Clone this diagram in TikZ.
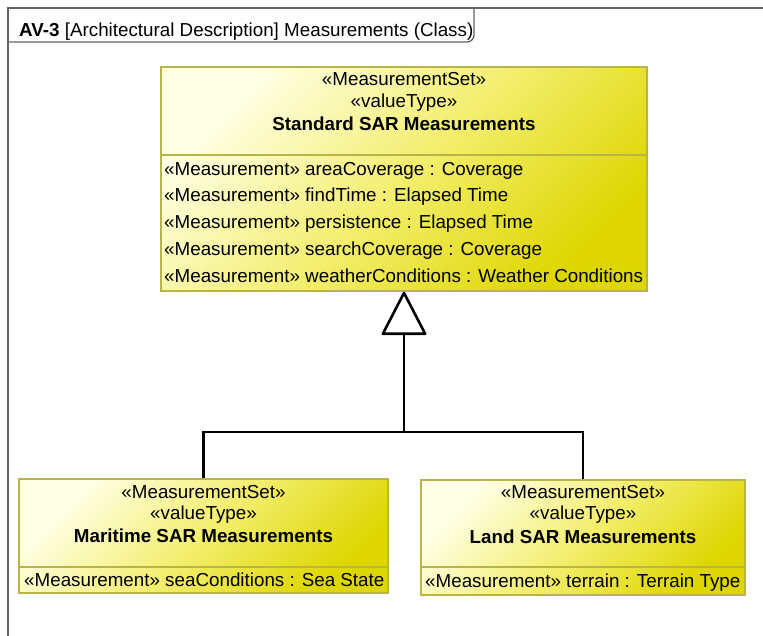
\documentclass[tikz,border=0pt]{standalone}
\usepackage{fontspec}
\setmainfont{Liberation Sans}
\usetikzlibrary{arrows.meta}
\definecolor{boxlight}{rgb}{1,1,0.90}
\definecolor{boxdark}{RGB}{222,214,0}
\definecolor{boxline}{RGB}{185,180,70}
\definecolor{framec}{RGB}{100,100,100}
\tikzset{
  classbox/.style={draw=boxline, line width=1.3pt, top color=boxlight, bottom color=boxdark, middle color={rgb,255:red,243;green,238;blue,110}, shading angle=45, inner sep=0pt},
  sepline/.style={draw=boxline, line width=2pt},
  txt/.style={inner sep=0pt, text height=13.5pt, text depth=3.5pt, font=\fontsize{18.8}{22}\selectfont},
  attr/.style={txt, anchor=west},
  conn/.style={line width=2.6pt, black},
  gen/.style={conn, -{Triangle[fill=white, length=45pt, width=46pt, line width=2.6pt, round]}},
  framel/.style={draw=framec, line width=1.3pt}
}
\begin{document}
\begin{tikzpicture}[x=1pt, y=-1pt]
\useasboundingbox (0,0) rectangle (763,635);
% frame
\draw[framel] (8,640) -- (8,8) -- (770,8);
\draw[framel, rounded corners=7pt] (8,42) -- (474,42) -- (474,8);
\node[txt, anchor=west] (title) at (19,31) {\textbf{AV-3} [Architectural Description] Measurements (Class)};

% Standard SAR Measurements
\node[classbox, minimum width=486pt, minimum height=224pt] (std) at (404,179) {};
\draw[sepline] (std.west |- 0,155) -- (std.east |- 0,155);
\node[txt] (s1) at (404,80) {«MeasurementSet»};
\node[txt] (s2) at (404,102) {«valueType»};
\node[txt] (s3) at (404,125) {\textbf{Standard SAR Measurements}};
\node[attr] (a1) at (164,170) {«Measurement» areaCoverage : Coverage};
\node[attr] (a2) at (164,196) {«Measurement» findTime : Elapsed Time};
\node[attr] (a3) at (164,223) {«Measurement» persistence : Elapsed Time};
\node[attr] (a4) at (164,250) {«Measurement» searchCoverage : Coverage};
\node[attr] (a5) at (164,277) {«Measurement» weatherConditions : Weather Conditions};

% Maritime SAR Measurements
\node[classbox, minimum width=369pt, minimum height=114pt] (mar) at (203.5,536) {};
\draw[sepline] (mar.west |- 0,567) -- (mar.east |- 0,567);
\node[txt] (m1) at (203.5,493) {«MeasurementSet»};
\node[txt] (m2) at (203.5,514) {«valueType»};
\node[txt] (m3) at (203.5,537) {\textbf{Maritime SAR Measurements}};
\node[attr] (m4) at (24,581) {«Measurement» seaConditions : Sea State};

% Land SAR Measurements
\node[classbox, minimum width=324pt, minimum height=115pt] (land) at (583,537.5) {};
\draw[sepline] (land.west |- 0,567) -- (land.east |- 0,567);
\node[txt] (l1) at (583,493) {«MeasurementSet»};
\node[txt] (l2) at (583,514) {«valueType»};
\node[txt] (l3) at (583,538) {\textbf{Land SAR Measurements}};
\node[attr] (l4) at (425,582) {«Measurement» terrain : Terrain Type};

% generalization
\coordinate (j) at (404,432);
\draw[conn] (mar.north) |- (j);
\draw[conn] (land.north) |- (j);
\draw[gen] (j) -- (std.south);
\end{tikzpicture}
\end{document}
